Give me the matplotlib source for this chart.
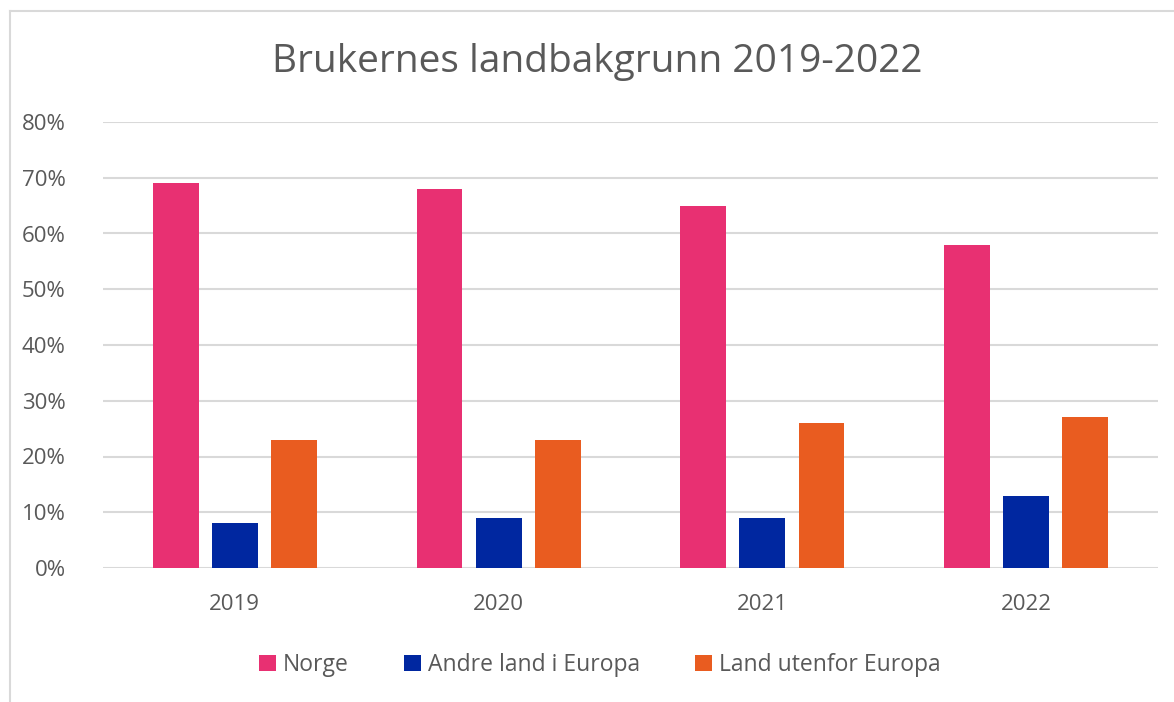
import matplotlib
matplotlib.use("Agg")
import matplotlib.pyplot as plt
import numpy as np
from matplotlib.lines import Line2D
from matplotlib.ticker import PercentFormatter

plt.rcParams['font.family'] = ['Open Sans', 'DejaVu Sans']

years = ["2019", "2020", "2021", "2022"]
series_names = ["Norge", "Andre land i Europa", "Land utenfor Europa"]
norge = [0.69, 0.68, 0.65, 0.58]
andre_europa = [0.08, 0.09, 0.09, 0.13]
utenfor_europa = [0.23, 0.23, 0.26, 0.27]
colors = ["#E83072", "#0027A0", "#E95C20"]

text_color = "#595959"
grid_color = "#D9D9D9"

fig = plt.figure(figsize=(11.74, 7.02), dpi=100)
ax = fig.add_axes([103 / 1174, 1 - 568 / 702, (1158 - 103) / 1174, (568 - 122) / 702])

x = np.arange(len(years))
width = 0.174
step = 0.224
for i, (vals, name) in enumerate(zip([norge, andre_europa, utenfor_europa], series_names)):
    ax.bar(x + (i - 1) * step, vals, width, color=colors[i], label=name, zorder=3)

ax.set_xlim(-0.5, len(years) - 0.5)
ax.set_ylim(0, 0.8)
ax.set_yticks(np.arange(0, 0.81, 0.1))
ax.yaxis.set_major_formatter(PercentFormatter(1.0, decimals=0))
ax.set_xticks(x)
ax.set_xticklabels(years)
ax.grid(axis="y", color=grid_color, linewidth=1.5, zorder=0)
for s in ax.spines.values():
    s.set_visible(False)
ax.tick_params(axis="both", length=0, labelsize=16, colors=text_color)
ax.tick_params(axis="y", pad=27)
ax.tick_params(axis="x", pad=19)

fig.text(597 / 1174, 1 - 62 / 702, "Brukernes landbakgrunn 2019-2022",
         ha="center", va="center", fontsize=28, color=text_color)

leg = fig.legend(loc="center", bbox_to_anchor=(600 / 1174, 1 - 665 / 702), ncol=3,
                 frameon=False, fontsize=16.5, handlelength=0.75, handleheight=0.75,
                 handletextpad=0.3, columnspacing=2.4, labelcolor=text_color)

# outer chart frame (only top and left edges visible)
fig.add_artist(Line2D([10 / 1174, 10 / 1174], [0, 1 - 11 / 702], transform=fig.transFigure,
                      color=grid_color, linewidth=1.5))
fig.add_artist(Line2D([10 / 1174, 1], [1 - 11 / 702, 1 - 11 / 702], transform=fig.transFigure,
                      color=grid_color, linewidth=1.5))

fig.savefig("out.png", dpi=100)
